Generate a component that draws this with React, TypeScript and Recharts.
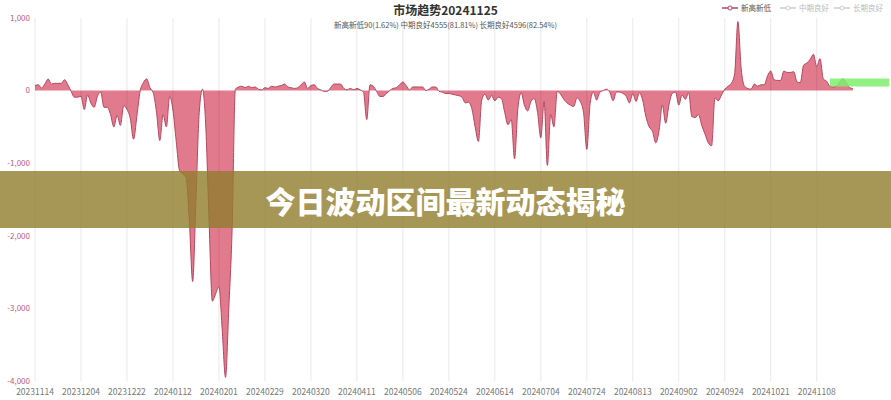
import React from 'react'
import { AreaChart, Area, XAxis, YAxis, ReferenceLine, ReferenceArea } from 'recharts'

// tick labels every 14 trading days, starting at index 0
const tickLabels = [
  '20231114', '20231204', '20231222', '20240112', '20240201', '20240229',
  '20240320', '20240411', '20240506', '20240524', '20240614', '20240704',
  '20240724', '20240813', '20240902', '20240924', '20241021', '20241108',
]

// 新高新低 net count, one value per trading day (20231114 .. 20241125)
const netHighLow = [
  70, 80, 35, 90, 160, 90, 100, 100, 100, 150,
  80, -10, -90, -90, -80, -260, -60, -170, -230, -80,
  -20, -230, -230, -330, -500, -340, -480, -210, -260, -380,
  -670, -360, -10, 110, 160, 40, -30, -300, -690, -330,
  -500, -80, -270, -700, -1100, -1150, -1200, -1800, -2630, -1500,
  -300, 20, -500, -1800, -2900, -2800, -2700, -3300, -3950, -3000,
  -1930, 20, 50, 60, 40, 60, 40, 50, 20, 10,
  40, 30, 60, 50, 60, 70, 90, 50, 40, 30,
  40, 80, 120, 30, 70, 80, 30, 10, -10, -10,
  40, 90, 90, 90, 30, 10, 30, 10, 30, 10,
  -20, -400, 80, 60, -10, -80, -80, -40, 0, 30,
  40, 80, 120, 70, 10, 50, 50, 50, 50, 0,
  20, 50, 50, -10, -20, -40, -40, -50, -60, -70,
  -90, -170, -160, -250, -500, -700, -130, -50, -130, -70,
  -140, -90, -110, -300, -470, -400, -940, -250, -30, -200,
  -280, -150, -110, -300, -650, -150, -1030, -330, -500, -10,
  -50, -120, -170, -200, -220, -100, -150, -300, -810, -180,
  -20, -130, -20, 0, 20, -20, -140, -20, -20, -40,
  -80, -170, -40, -150, -30, -130, -360, -500, -560, -720,
  -550, -200, -450, -200, -40, -20, -200, -60, -120, -30,
  -360, -370, -330, -480, -600, -720, -760, -100, -140, -60,
  20, 60, 100, 230, 950, 300, 60, 30, 20, 90,
  60, 80, 80, 200, 270, 150, 140, 140, 270, 250,
  250, 260, 120, 110, 350, 380, 430, 500, 330, 440,
  160, 130, 60, 50, 60, 120, 160, 110, 40, 30,
]

const yTicks = [-4000, -3000, -2000, -1000, 0, 1000]

export default function App() {
  const data = netHighLow.map((v, i) => ({ i, v }))
  const xTicks = tickLabels.map((_, k) => k * 14)
  const font = '"Noto Sans CJK SC", "Noto Sans", sans-serif'

  return (
    <div style={{ position: 'absolute', left: 0, top: 0, width: 891, height: 400, background: '#fff', fontFamily: font, overflow: 'hidden' }}>
      <style>{'body{margin:0}'}</style>
      <AreaChart width={891} height={400} data={data} margin={{ top: 18, right: 2, bottom: 0, left: 0 }}>
        {xTicks.map((t) => (
          <ReferenceLine key={t} x={t} stroke="rgba(0,0,0,0.09)" strokeWidth={1} />
        ))}
        <XAxis
          type="number"
          dataKey="i"
          domain={[0, 260]}
          ticks={xTicks}
          tickFormatter={(v) => tickLabels[Math.round(v / 14)] ?? ''}
          axisLine={false}
          tickLine={false}
          height={19}
          tickSize={4}
          tick={{ fontSize: 8.5, fill: '#777', fontFamily: font }}
          tickMargin={4}
        />
        <YAxis
          domain={[-4000, 1000]}
          ticks={yTicks}
          tickFormatter={(v) => Number(v).toLocaleString('en-US')}
          axisLine={false}
          tickLine={false}
          width={35}
          tickSize={3}
          tick={{ fontSize: 8, fill: '#c25a7a', fontFamily: font }}
        />
        <Area
          type="monotone"
          dataKey="v"
          stroke="#b5475f"
          strokeWidth={1}
          fill="#d6465f"
          fillOpacity={0.72}
          isAnimationActive={false}
        />
        <ReferenceArea x1={242} x2={260} y1={55} y2={165} fill="#7ef06f" fillOpacity={0.85} stroke="none" />
      </AreaChart>

      <div style={{ position: 'absolute', left: 0, width: 891, top: 1, textAlign: 'center', fontSize: 12, fontWeight: 700, color: '#333' }}>
        市场趋势20241125
      </div>
      <div style={{ position: 'absolute', left: 0, width: 891, top: 19, textAlign: 'center', fontSize: 7.5, color: '#555' }}>
        新高新低90(1.62%) 中期良好4555(81.81%) 长期良好4596(82.54%)
      </div>

      <div style={{ position: 'absolute', top: 2, left: 722, display: 'flex', alignItems: 'center', fontSize: 7.5, whiteSpace: 'nowrap' }}>
        <svg width={16} height={8} style={{ marginRight: 3 }}>
          <line x1={0} y1={4} x2={16} y2={4} stroke="#b04a62" strokeWidth={1.5} />
          <circle cx={8} cy={4} r={2} fill="#fff" stroke="#b04a62" />
        </svg>
        <span style={{ color: '#555' }}>新高新低</span>
        <svg width={16} height={8} style={{ marginLeft: 9, marginRight: 3 }}>
          <line x1={0} y1={4} x2={16} y2={4} stroke="#ccc" strokeWidth={1.5} />
          <circle cx={8} cy={4} r={2} fill="#fff" stroke="#ccc" />
        </svg>
        <span style={{ color: '#bbb' }}>中期良好</span>
        <svg width={16} height={8} style={{ marginLeft: 5, marginRight: 3 }}>
          <line x1={0} y1={4} x2={16} y2={4} stroke="#ccc" strokeWidth={1.5} />
          <circle cx={8} cy={4} r={2} fill="#fff" stroke="#ccc" />
        </svg>
        <span style={{ color: '#bbb' }}>长期良好</span>
      </div>

      <div
        style={{
          position: 'absolute',
          left: 0,
          top: 171,
          width: 891,
          height: 57,
          background: 'rgba(145,125,45,0.8)',
          display: 'flex',
          alignItems: 'center',
          justifyContent: 'center',
          color: '#fff',
          fontSize: 30,
          fontWeight: 900,
        }}
      >
        今日波动区间最新动态揭秘
      </div>
    </div>
  )
}
